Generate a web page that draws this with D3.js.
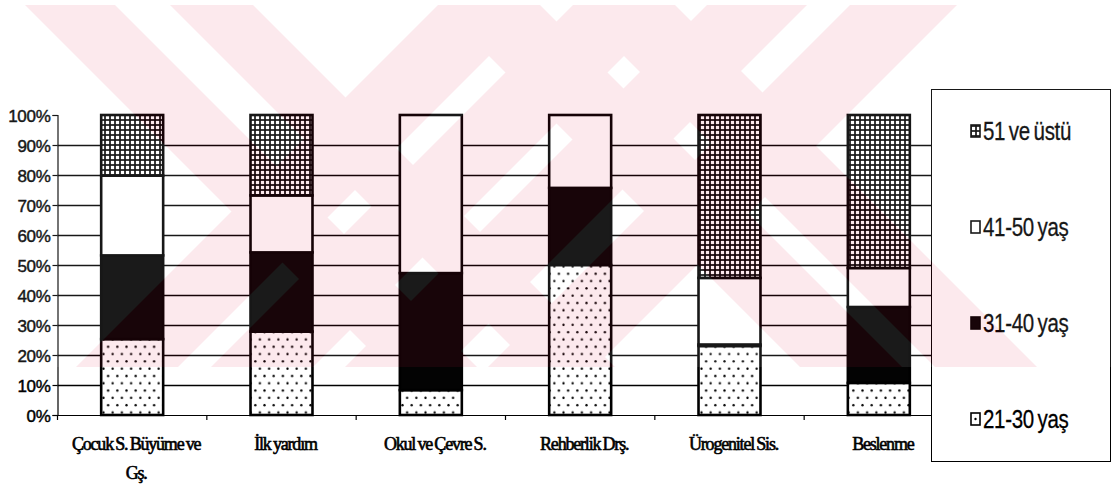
<!DOCTYPE html>
<html>
<head>
<meta charset="utf-8">
<script src="https://cdn.jsdelivr.net/npm/d3@7"></script>
<style>
  html, body { margin: 0; padding: 0; background: #fff; }
  svg { display: block; }
</style>
</head>
<body>
<svg id="chart" width="1113" height="499"></svg>
<script>
// ---- data ----
const categories = ["Çocuk S. Büyüme ve Gş.", "İlk yardım", "Okul ve Çevre S.", "Rehberlik Drş.", "Ürogenitel Sis.", "Beslenme"];
const seriesNames = ["21-30 yaş", "31-40 yaş", "41-50 yaş", "51 ve üstü"];
const age21to30 = [25.3, 27.8, 8.3, 50.0, 23.0, 10.7];
const age31to40 = [27.9, 26.4, 39.0, 25.7, 0.5, 25.3];
const age41to50 = [26.6, 19.0, 52.7, 24.3, 22.2, 13.0];
const age51plus = [20.2, 26.8, 0.0, 0.0, 54.3, 51.0];
const yTickValues = [0, 0.1, 0.2, 0.3, 0.4, 0.5, 0.6, 0.7, 0.8, 0.9, 1.0];
const legendOrder = ["51 ve üstü", "41-50 yaş", "31-40 yaş", "21-30 yaş"];

const seriesValues = [age21to30, age31to40, age41to50, age51plus];
const table = categories.map((c, i) => {
  const row = { category: c };
  seriesNames.forEach((s, k) => { row[s] = seriesValues[k][i]; });
  return row;
});
const stacked = d3.stack().keys(seriesNames).offset(d3.stackOffsetExpand)(table);

// ---- layout ----
const svg = d3.select("#chart");
const plot = { left: 57.5, right: 953.5, top: 115, bottom: 415 };
const legendBox = { x: 931, y: 89, w: 179, h: 372 };

const x = d3.scaleBand().domain(categories)
  .range([plot.left, plot.right]).paddingInner(0.585).paddingOuter(0.2925);
const y = d3.scaleLinear().domain([0, 1]).range([plot.bottom, plot.top]);

// ---- fill patterns ----
const defs = svg.append("defs");
const grid = defs.append("pattern").attr("id", "pGrid")
  .attr("patternUnits", "userSpaceOnUse").attr("width", 5).attr("height", 5);
grid.append("rect").attr("width", 5).attr("height", 5).attr("fill", "#000");
grid.append("rect").attr("x", 0.85).attr("y", 0.85).attr("width", 3.3).attr("height", 3.3).attr("fill", "#fff");

const dots = defs.append("pattern").attr("id", "pDots")
  .attr("patternUnits", "userSpaceOnUse").attr("width", 9.2).attr("height", 14.6);
dots.append("rect").attr("width", 9.2).attr("height", 14.6).attr("fill", "#fff");
dots.append("circle").attr("cx", 2.3).attr("cy", 3.6).attr("r", 1.15).attr("fill", "#000");
dots.append("circle").attr("cx", 6.9).attr("cy", 10.9).attr("r", 1.15).attr("fill", "#000");

const fills = {
  "21-30 yaş": "url(#pDots)",
  "31-40 yaş": "#030303",
  "41-50 yaş": "#fff",
  "51 ve üstü": "url(#pGrid)"
};

// ---- gridlines ----
svg.append("g").selectAll("line")
  .data(yTickValues.filter(v => v > 0 && v < 1))
  .join("line")
  .attr("x1", plot.left).attr("x2", plot.right)
  .attr("y1", d => Math.round(y(d)) + 0.5).attr("y2", d => Math.round(y(d)) + 0.5)
  .attr("stroke", "#000").attr("stroke-width", 1.4);

// ---- y axis ----
const yAxis = svg.append("g")
  .attr("transform", `translate(${plot.left},0)`)
  .call(d3.axisLeft(y).tickValues(yTickValues).tickFormat(d3.format(".0%")).tickSize(5).tickPadding(2));
yAxis.select(".domain").attr("stroke", "#000").attr("stroke-width", 1.2);
yAxis.selectAll(".tick line").attr("stroke", "#000").attr("stroke-width", 1.2);
yAxis.selectAll(".tick text")
  .attr("fill", "#000")
  .attr("stroke", "#000").attr("stroke-width", 0.45)
  .style("font-family", "'Liberation Sans', Arial, sans-serif")
  .style("font-size", "17px")
  .style("letter-spacing", "-0.3px")
  .attr("dy", "0.36em");

// ---- x axis line and category ticks ----
const xAxis = svg.append("g");
xAxis.append("line")
  .attr("x1", plot.left).attr("x2", plot.right)
  .attr("y1", y(0) + 0.5).attr("y2", y(0) + 0.5)
  .attr("stroke", "#000").attr("stroke-width", 1.2);
const step = x.step();
xAxis.selectAll("line.cat-tick")
  .data(d3.range(categories.length + 1))
  .join("line").attr("class", "cat-tick")
  .attr("x1", i => plot.left + i * step).attr("x2", i => plot.left + i * step)
  .attr("y1", y(0)).attr("y2", y(0) + 5)
  .attr("stroke", "#000").attr("stroke-width", 1.2);

// ---- stacked bars ----
svg.append("g").selectAll("g")
  .data(stacked)
  .join("g")
  .attr("fill", d => fills[d.key])
  .selectAll("rect")
  .data(d => d)
  .join("rect")
  .attr("x", d => x(d.data.category))
  .attr("y", d => y(d[1]))
  .attr("width", x.bandwidth())
  .attr("height", d => y(d[0]) - y(d[1]))
  .attr("stroke", "#000")
  .attr("stroke-width", 2.6);

// ---- category labels (wrapped to the band width) ----
const labelG = svg.append("g")
  .style("font-family", "'Liberation Serif', 'Times New Roman', serif")
  .style("font-size", "18px")
  .style("letter-spacing", "-1.2px")
  .style("word-spacing", "-1px")
  .attr("fill", "#000")
  .attr("stroke", "#000").attr("stroke-width", 0.6);
categories.forEach(c => {
  const cx = x(c) + x.bandwidth() / 2 + 4;
  const t = labelG.append("text").attr("text-anchor", "middle")
    .attr("x", cx).attr("y", 450);
  const words = c.split(" ");
  let line = [];
  let lineNo = 0;
  let tspan = t.append("tspan").attr("x", cx).attr("y", 450);
  words.forEach(w => {
    line.push(w);
    tspan.text(line.join(" "));
    if (tspan.node().getComputedTextLength() > step - 12 && line.length > 1) {
      line.pop();
      tspan.text(line.join(" "));
      line = [w];
      lineNo += 1;
      tspan = t.append("tspan").attr("x", cx).attr("y", 450 + lineNo * 29).text(w);
    }
  });
});

// ---- legend ----
const legend = svg.append("g");
legend.append("rect")
  .attr("x", legendBox.x + 0.5).attr("y", legendBox.y + 0.5)
  .attr("width", legendBox.w).attr("height", legendBox.h)
  .attr("fill", "#fff").attr("stroke", "#000").attr("stroke-width", 1);
const items = legend.selectAll("g.item")
  .data(legendOrder)
  .join("g").attr("class", "item")
  .attr("transform", (d, i) => `translate(${legendBox.x + 40},${legendBox.y + 42 + i * 96})`);
items.append("rect")
  .attr("x", 0).attr("y", -6).attr("width", 9).attr("height", 12)
  .attr("fill", d => d === "21-30 yaş" ? "#fff" : fills[d])
  .attr("stroke", "#000").attr("stroke-width", 1.6);
items.filter(d => d === "21-30 yaş").append("circle")
  .attr("cx", 4.5).attr("cy", 0).attr("r", 1.2).attr("fill", "#000");
items.append("text")
  .attr("transform", "translate(12,9) scale(0.82,1)")
  .style("font-family", "'Liberation Sans', Arial, sans-serif")
  .style("font-size", "25px")
  .style("letter-spacing", "-0.4px")
  .style("word-spacing", "-2px")
  .attr("fill", "#000")
  .attr("stroke", "#000").attr("stroke-width", 0.3)
  .text(d => d);

// ---- watermark overlay (diagonal stripes) ----
const wmTop = 5, wmBottom = 367, wmRun = wmBottom - wmTop;
const backStripes = [[25, 115], [170, 253], [438, 540], [573, 675]];
const fwdStripes = [[438, 540], [573, 675], [707, 807], [850, 957]];
defs.append("clipPath").attr("id", "wmClip")
  .append("rect").attr("x", 0).attr("y", wmTop).attr("width", 1113).attr("height", wmRun);
const wm = svg.append("g").attr("opacity", 0.09).attr("clip-path", "url(#wmClip)");
wm.append("rect").attr("x", 0).attr("y", wmTop).attr("width", 1113).attr("height", wmRun).attr("fill", "#fff");
const stripePoly = (a, b, dir) => [
  [a, wmTop], [b, wmTop], [b + dir * wmRun, wmBottom], [a + dir * wmRun, wmBottom]
].map(p => p.join(",")).join(" ");
wm.selectAll("polygon.back").data(backStripes).join("polygon").attr("class", "back")
  .attr("points", d => stripePoly(d[0], d[1], 1)).attr("fill", "rgb(228,30,70)");
wm.selectAll("polygon.fwd").data(fwdStripes).join("polygon").attr("class", "fwd")
  .attr("points", d => stripePoly(d[0], d[1], -1)).attr("fill", "rgb(228,30,70)");
</script>
</body>
</html>
